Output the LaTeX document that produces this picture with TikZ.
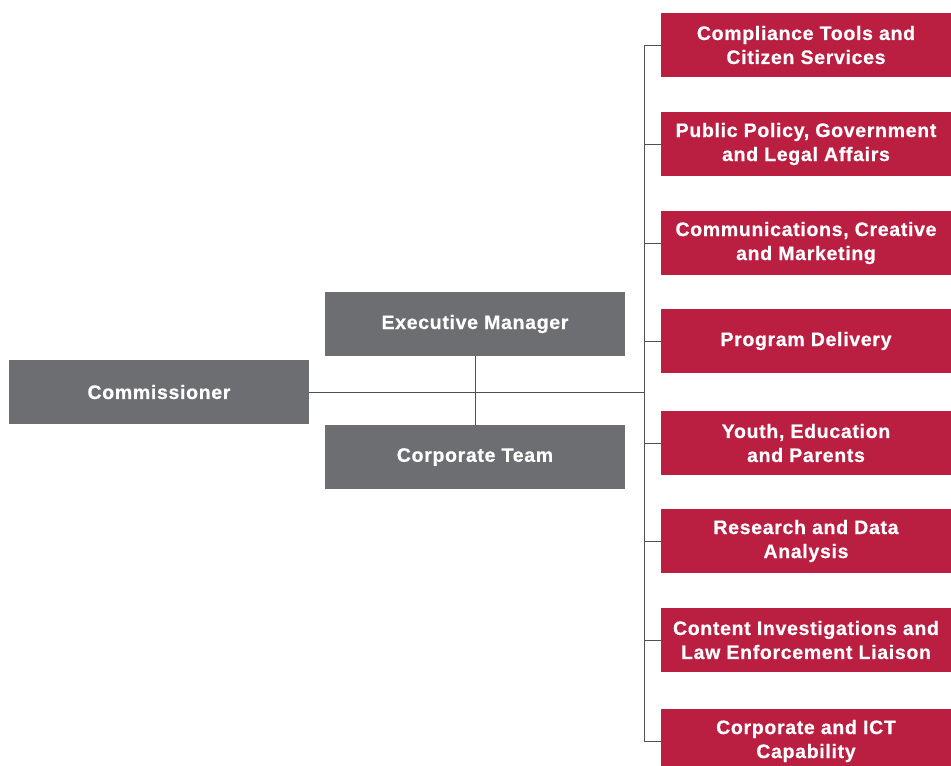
\documentclass[tikz,border=0pt]{standalone}
\usepackage{fontspec}
\setmainfont{Liberation Sans}
\newfontfamily\boxfont{Liberation Sans}[LetterSpace=3.5,FakeBold=0.6]
\usepackage{tikz}
\usepackage{xcolor}
\usetikzlibrary{positioning,calc}
\definecolor{slate}{RGB}{109,110,114}
\definecolor{crimson}{RGB}{186,31,66}
\definecolor{wire}{RGB}{80,80,82}
\tikzset{
  box/.style={draw=none,align=center,text=white,inner sep=0pt,
    font=\boxfont\fontsize{19.5}{24}\selectfont\bfseries,minimum height=64pt},
  greybox/.style={box,fill=slate,minimum width=300pt},
  redbox/.style={box,fill=crimson,minimum width=290pt},
  link/.style={draw=wire,line width=1pt}
}

\begin{document}
\begin{tikzpicture}[x=1pt,y=-1pt]
  \useasboundingbox (0,0) rectangle (951,766);
  \clip (0,0) rectangle (951,766);

  % left side
  \node[greybox] (comm) at (159,392) {Commissioner};
  \node[greybox] (exec) at (475,324) {Executive Manager};
  \node[greybox] (corp) at (475,457) {Corporate Team};

  % branches on the right
  \node[redbox] (compliance) at (806,45)  {Compliance Tools and\\Citizen Services};
  \node[redbox] (policy)     at (806,144) {Public Policy, Government\\and Legal Affairs};
  \node[redbox] (comms)      at (806,243) {Communications, Creative\\and Marketing};
  \node[redbox] (delivery)   at (806,341) {Program Delivery};
  \node[redbox] (youth)      at (806,443) {Youth, Education\\and Parents};
  \node[redbox] (research)   at (806,541) {Research and Data\\Analysis};
  \node[redbox] (investig)   at (806,640) {Content Investigations and\\Law Enforcement Liaison};
  \node[redbox] (ictcap)     at (806,741) {Corporate and ICT\\Capability};

  \coordinate (bus) at (644,0);

  \draw[link] (comm.east) -- (comm.east -| bus);
  \draw[link] (exec.south) -- (corp.north);
  \draw[link] (compliance.west -| bus) -- (ictcap.west -| bus);
  \foreach \n in {compliance,policy,comms,delivery,youth,research,investig,ictcap}
    \draw[link] (\n.west -| bus) -- (\n.west);
\end{tikzpicture}
\end{document}
